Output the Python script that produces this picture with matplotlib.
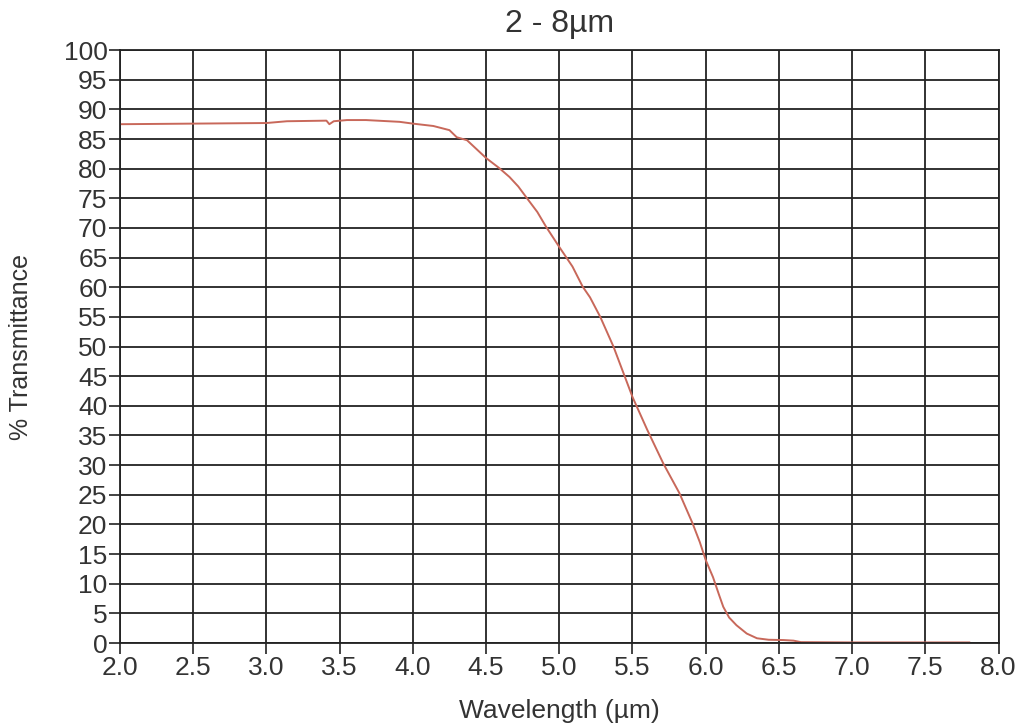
import matplotlib.pyplot as plt
import numpy as np

# wavelength (um) and % transmittance
wavelength = [2.0, 2.5, 3.0, 3.14, 3.41, 3.43, 3.46, 3.55, 3.68, 3.91, 4.0, 4.14, 4.25,
              4.30, 4.37, 4.50, 4.59, 4.66, 4.72, 4.78, 4.85, 4.91, 5.0, 5.09, 5.16, 5.21, 5.28,
              5.37, 5.50, 5.60, 5.71, 5.82, 5.91, 5.96, 6.0, 6.05, 6.09, 6.12, 6.16, 6.21, 6.28,
              6.35, 6.43, 6.53, 6.60, 6.65, 7.0, 7.5, 7.8]
transmittance = [87.5, 87.6, 87.7, 88.0, 88.1, 87.5, 88.0, 88.2, 88.2, 87.9, 87.6, 87.2, 86.5,
                 85.3, 84.8, 81.8, 80.1, 78.6, 77.0, 75.0, 72.7, 70.2, 66.8, 63.5, 60.1, 58.3, 55.0,
                 50.0, 41.5, 36.0, 30.3, 25.3, 20.2, 17.0, 14.0, 11.1, 8.2, 6.1, 4.3, 3.0, 1.6,
                 0.8, 0.55, 0.5, 0.4, 0.15, 0.1, 0.1, 0.1]

x_ticks = np.arange(2.0, 8.01, 0.5)
y_ticks = np.arange(0, 101, 5)

plt.rcParams['font.family'] = ['Liberation Sans', 'DejaVu Sans']

fig = plt.figure(figsize=(10.2, 7.26), dpi=100)
ax = fig.add_axes([0.1176, 0.1143, 0.8614, 0.8167])

ax.plot(wavelength, transmittance, color='#c8685a', linewidth=1.4)

ax.set_xlim(2.0, 8.0)
ax.set_ylim(0, 100)
ax.set_xticks(x_ticks)
ax.set_xticklabels([f'{v:.1f}' for v in x_ticks])
ax.set_yticks(y_ticks)
ax.grid(True, color='#222222', linewidth=1.3)
ax.tick_params(direction='out', length=8, width=1.2, color='#222222', labelsize=19,
               labelcolor='#333333', pad=1)
for s in ax.spines.values():
    s.set_color('#222222')
    s.set_linewidth(1.3)

ax.set_title('2 - 8µm', fontsize=23, color='#333333', pad=13)
ax.set_xlabel('Wavelength (µm)', fontsize=19, color='#333333', labelpad=14)
ax.set_ylabel('% Transmittance', fontsize=18, color='#333333', labelpad=22)

fig.savefig('out.png', dpi=100)
